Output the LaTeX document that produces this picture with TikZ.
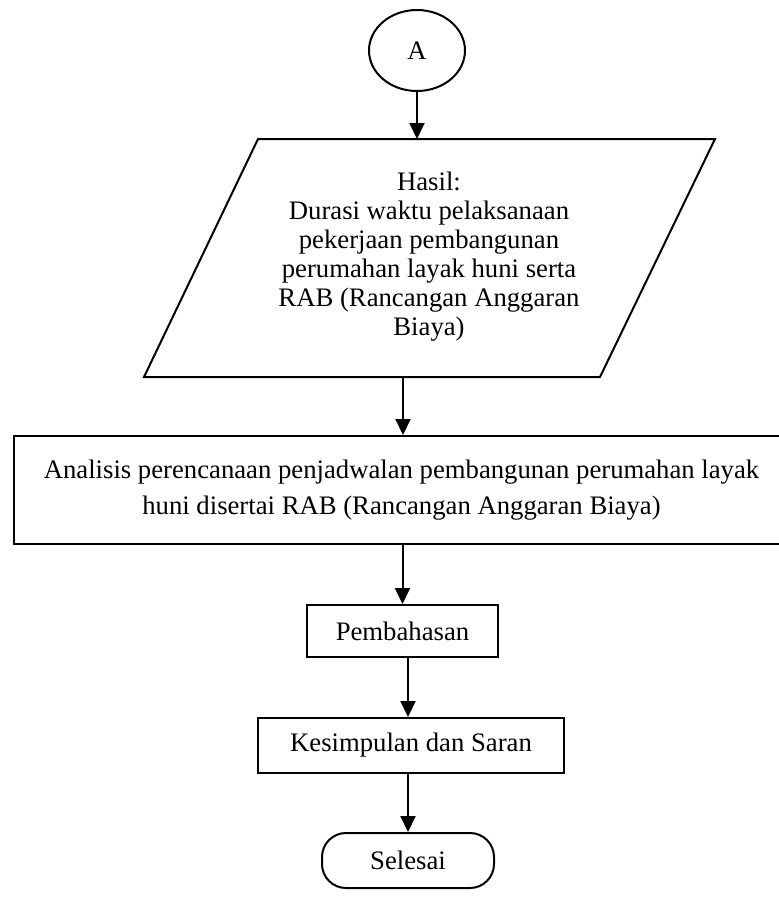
\documentclass[tikz,border=0pt]{standalone}
\usepackage{fontspec}
\setmainfont{Liberation Serif}
\usetikzlibrary{arrows.meta,shapes.geometric}
\begin{document}
\begin{tikzpicture}[x=1pt,y=-1pt,
  line width=2pt,
  txt/.style={font=\fontsize{26.7}{29}\selectfont, align=center, inner sep=0pt},
  procbox/.style={draw, line width=2pt, inner sep=0pt, font=\fontsize{26.7}{36}\selectfont, align=center},
  termbox/.style={draw, line width=2pt, inner sep=0pt, rounded corners=24pt, font=\fontsize{26.7}{29}\selectfont},
  conn/.style={line width=2pt, -{Triangle[length=16pt,width=15pt]}}]
\useasboundingbox (0,0) rectangle (779,900);
% connector A
\node[draw, ellipse, line width=2pt, minimum width=96pt, minimum height=81pt, inner sep=0pt, font=\fontsize{26.7}{29}\selectfont] (A) at (417,50.5) {A};
% parallelogram (data)
\coordinate (p1) at (258,139);
\coordinate (p2) at (715,139);
\coordinate (p3) at (600,377);
\coordinate (p4) at (144,377);
\draw[line width=2pt, line join=miter] (p1) -- (p2) -- (p3) -- (p4) -- cycle;
\coordinate (ptop) at (417,139);
\coordinate (pbot) at (403,377);
\node[txt] (hasil) at (429,257) {Hasil:\\Durasi waktu pelaksanaan\\pekerjaan pembangunan\\perumahan layak huni serta\\RAB (Rancangan Anggaran\\Biaya)};
% analysis box
\node[procbox, minimum width=775pt, minimum height=108pt] (ana) at (401.5,490) {Analisis perencanaan penjadwalan pembangunan perumahan layak\\huni disertai RAB (Rancangan Anggaran Biaya)};
% discussion
\node[procbox, minimum width=191pt, minimum height=52pt] (bahas) at (402.5,631) {Pembahasan};
% conclusion
\node[procbox, minimum width=306pt, minimum height=55pt] (kes) at (411,745.5) {Kesimpulan dan Saran};
% end
\node[termbox, minimum width=172pt, minimum height=55pt] (sel) at (408,860.5) {Selesai};
% connectors
\draw[conn] (A.south) -- (ptop);
\draw[conn] (pbot) -- (pbot |- ana.north);
\draw[conn] (ana.south -| bahas.north) -- (bahas.north);
\draw[conn] (bahas.south -| sel.north) -- (kes.north -| sel.north);
\draw[conn] (kes.south -| sel.north) -- (sel.north);
\end{tikzpicture}
\end{document}
